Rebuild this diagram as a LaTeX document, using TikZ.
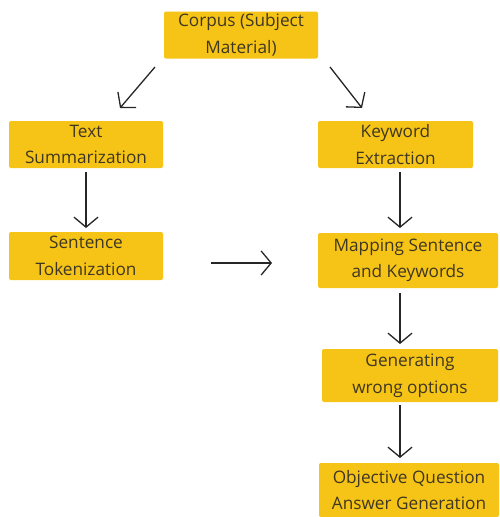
\documentclass[tikz,border=0pt]{standalone}
\usepackage{fontspec}
\setmainfont{Open Sans}
\usetikzlibrary{arrows.meta}
\definecolor{boxy}{HTML}{F6C416}
\definecolor{txt}{HTML}{3F3724}
\tikzset{
  box/.style={fill=boxy, draw=none, rounded corners=2pt, align=center, text=txt,
    font=\fontsize{17.2}{26.5}\selectfont, inner sep=0pt},
  arr/.style={line width=1.3pt, draw=black!85, -{Straight Barb[length=10pt,width=24pt,line width=1.3pt]}}
}
\begin{document}
\begin{tikzpicture}[x=1pt,y=-1pt]
\useasboundingbox (0,0) rectangle (499,517);
\node[box, minimum width=154pt, minimum height=47pt] (corpus) at (241,35) {Corpus (Subject\\Material)};
\node[box, minimum width=154pt, minimum height=47pt] (ts) at (86,144.5) {Text\\Summarization};
\node[box, minimum width=154pt, minimum height=48pt] (st) at (86,256) {Sentence\\Tokenization};
\node[box, minimum width=155pt, minimum height=47pt] (kw) at (395.5,144.5) {Keyword\\Extraction};
\node[box, minimum width=180pt, minimum height=55pt] (map) at (408,260.5) {Mapping Sentence\\and Keywords};
\node[box, minimum width=176pt, minimum height=53pt] (gen) at (410,375.5) {Generating\\wrong options};
\node[box, minimum width=180pt, minimum height=54pt] (obj) at (409,490) {Objective Question\\Answer Generation};
% connector ends
\coordinate (c1a) at (155,67);  \coordinate (c1b) at (120,108);
\coordinate (c2a) at (330,67);  \coordinate (c2b) at (362,108);
\coordinate (c3a) at (86,172);  \coordinate (c3b) at (86,228);
\coordinate (h1) at (211,263);  \coordinate (h2) at (272,263);
\coordinate (c4a) at (400,172); \coordinate (c4b) at (400,228);
\coordinate (c5a) at (400,293); \coordinate (c5b) at (400,344);
\coordinate (c6a) at (400,405); \coordinate (c6b) at (400,458);
\draw[arr] (c1a) -- (c1b);
\draw[arr] (c2a) -- (c2b);
\draw[arr] (c3a) -- (c3b);
\draw[arr] (h1) -- (h2);
\draw[arr] (c4a) -- (c4b);
\draw[arr] (c5a) -- (c5b);
\draw[arr] (c6a) -- (c6b);
\end{tikzpicture}
\end{document}
